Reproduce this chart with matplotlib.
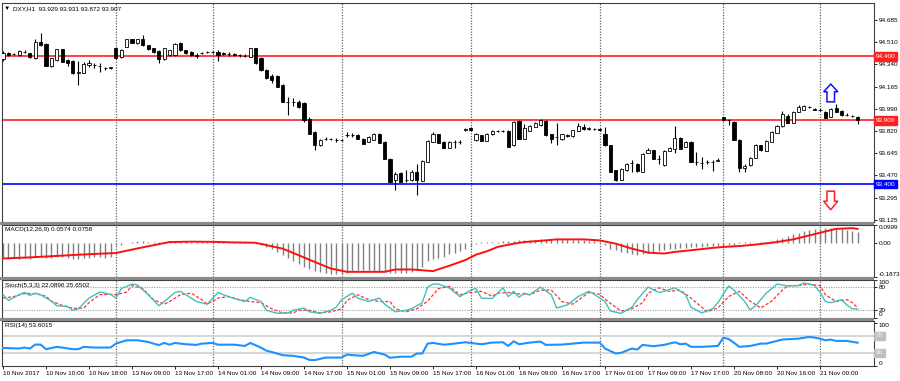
import matplotlib
matplotlib.use("Agg")
import matplotlib.pyplot as plt
from matplotlib.patches import Polygon, Rectangle
import numpy as np

plt.rcParams['font.family'] = ['Liberation Sans', 'DejaVu Sans']

# --- price data (DXY, H1) ---
opens = [94.380, 94.424, 94.422, 94.411, 94.438, 94.424, 94.385, 94.515, 94.497, 94.325,
         94.372, 94.456, 94.372, 94.366, 94.272, 94.272, 94.333, 94.333, 94.329, 94.307,
         94.309, 94.463, 94.393, 94.476, 94.534, 94.502, 94.534, 94.489, 94.463, 94.445,
         94.377, 94.411, 94.411, 94.507, 94.450, 94.437, 94.411, 94.427, 94.434, 94.437,
         94.437, 94.424, 94.419, 94.419, 94.411, 94.407, 94.398, 94.463, 94.385, 94.293,
         94.246, 94.246, 94.176, 94.045, 94.045, 94.045, 94.035, 93.915, 93.810, 93.706,
         93.758, 93.755, 93.745, 93.745, 93.784, 93.784, 93.784, 93.758, 93.731, 93.750,
         93.792, 93.731, 93.601, 93.431, 93.488, 93.435, 93.431, 93.496, 93.426, 93.575,
         93.731, 93.792, 93.731, 93.687, 93.731, 93.731, 93.823, 93.844, 93.745, 93.784,
         93.739, 93.792, 93.818, 93.818, 93.818, 93.706, 93.896, 93.758, 93.818, 93.849,
         93.862, 93.896, 93.792, 93.770, 93.758, 93.784, 93.776, 93.818, 93.849, 93.836,
         93.831, 93.831, 93.792, 93.706, 93.510, 93.437, 93.510, 93.570, 93.562, 93.496,
         93.645, 93.667, 93.601, 93.549, 93.661, 93.680, 93.766, 93.692, 93.731, 93.575,
         93.570, 93.575, 93.575, 93.584, 93.923, 93.902, 93.888, 93.750, 93.531, 93.549,
         93.609, 93.706, 93.661, 93.731, 93.802, 93.855, 93.933, 93.880, 93.967, 93.985,
         94.006, 93.993, 93.984, 93.967, 93.927, 94.001, 93.974, 93.941, 93.937, 93.929]
highs = [94.442, 94.434, 94.427, 94.450, 94.450, 94.427, 94.534, 94.581, 94.505, 94.387,
         94.458, 94.458, 94.380, 94.372, 94.364, 94.356, 94.372, 94.348, 94.348, 94.317,
         94.321, 94.474, 94.458, 94.536, 94.540, 94.540, 94.567, 94.493, 94.470, 94.450,
         94.470, 94.454, 94.509, 94.513, 94.454, 94.442, 94.427, 94.434, 94.442, 94.446,
         94.450, 94.438, 94.434, 94.427, 94.423, 94.419, 94.466, 94.466, 94.395, 94.301,
         94.262, 94.254, 94.184, 94.084, 94.074, 94.058, 94.043, 93.925, 93.815, 93.753,
         93.768, 93.764, 93.764, 93.749, 93.808, 93.800, 93.792, 93.761, 93.776, 93.800,
         93.800, 93.737, 93.604, 93.494, 93.494, 93.510, 93.510, 93.562, 93.588, 93.745,
         93.808, 93.796, 93.737, 93.737, 93.750, 93.749, 93.843, 93.847, 93.800, 93.788,
         93.800, 93.823, 93.827, 93.827, 93.823, 93.894, 93.902, 93.875, 93.862, 93.886,
         93.913, 93.902, 93.796, 93.880, 93.796, 93.796, 93.827, 93.878, 93.875, 93.850,
         93.839, 93.839, 93.847, 93.710, 93.514, 93.525, 93.565, 93.588, 93.565, 93.643,
         93.687, 93.670, 93.627, 93.667, 93.694, 93.855, 93.768, 93.737, 93.737, 93.653,
         93.614, 93.588, 93.588, 93.604, 93.925, 93.915, 93.894, 93.753, 93.562, 93.612,
         93.714, 93.710, 93.745, 93.815, 93.862, 93.972, 93.954, 93.972, 94.019, 94.019,
         94.015, 93.999, 93.996, 93.972, 93.999, 94.027, 93.980, 93.956, 93.944, 93.931]
lows = [94.364, 94.403, 94.411, 94.403, 94.427, 94.387, 94.380, 94.481, 94.325, 94.321,
        94.368, 94.356, 94.325, 94.266, 94.176, 94.270, 94.317, 94.309, 94.280, 94.297,
        94.305, 94.380, 94.387, 94.474, 94.505, 94.497, 94.481, 94.450, 94.427, 94.346,
        94.372, 94.407, 94.407, 94.446, 94.419, 94.407, 94.391, 94.419, 94.430, 94.430,
        94.364, 94.411, 94.403, 94.403, 94.399, 94.395, 94.395, 94.344, 94.286, 94.223,
        94.189, 94.160, 94.043, 93.941, 94.011, 93.996, 93.888, 93.792, 93.667, 93.702,
        93.749, 93.749, 93.729, 93.741, 93.768, 93.768, 93.753, 93.714, 93.729, 93.745,
        93.721, 93.596, 93.415, 93.358, 93.415, 93.418, 93.427, 93.321, 93.423, 93.572,
        93.729, 93.721, 93.682, 93.682, 93.687, 93.714, 93.819, 93.819, 93.741, 93.737,
        93.737, 93.788, 93.811, 93.811, 93.690, 93.702, 93.753, 93.757, 93.815, 93.847,
        93.858, 93.780, 93.724, 93.706, 93.745, 93.768, 93.772, 93.815, 93.823, 93.823,
        93.823, 93.819, 93.702, 93.494, 93.427, 93.431, 93.506, 93.496, 93.498, 93.494,
        93.643, 93.596, 93.557, 93.545, 93.659, 93.645, 93.674, 93.690, 93.572, 93.549,
        93.523, 93.561, 93.504, 93.580, 93.894, 93.862, 93.745, 93.496, 93.496, 93.545,
        93.604, 93.663, 93.659, 93.729, 93.800, 93.851, 93.878, 93.878, 93.964, 93.980,
        93.996, 93.980, 93.972, 93.917, 93.925, 93.964, 93.937, 93.933, 93.925, 93.872]
closes = [94.427, 94.411, 94.419, 94.445, 94.434, 94.393, 94.515, 94.489, 94.327, 94.385,
          94.456, 94.358, 94.346, 94.268, 94.278, 94.340, 94.348, 94.332, 94.325, 94.309,
          94.317, 94.385, 94.450, 94.534, 94.507, 94.534, 94.487, 94.456, 94.432, 94.377,
          94.463, 94.450, 94.497, 94.450, 94.424, 94.411, 94.407, 94.430, 94.438, 94.437,
          94.411, 94.422, 94.419, 94.411, 94.411, 94.403, 94.463, 94.346, 94.293, 94.228,
          94.215, 94.162, 94.045, 94.047, 94.045, 94.006, 93.902, 93.797, 93.706, 93.750,
          93.757, 93.758, 93.744, 93.745, 93.783, 93.785, 93.758, 93.719, 93.771, 93.792,
          93.724, 93.601, 93.418, 93.484, 93.418, 93.431, 93.496, 93.431, 93.582, 93.739,
          93.797, 93.727, 93.687, 93.731, 93.733, 93.731, 93.836, 93.823, 93.792, 93.739,
          93.797, 93.818, 93.819, 93.818, 93.692, 93.888, 93.758, 93.844, 93.855, 93.880,
          93.902, 93.784, 93.758, 93.772, 93.792, 93.781, 93.823, 93.855, 93.836, 93.837,
          93.830, 93.828, 93.706, 93.496, 93.431, 93.523, 93.562, 93.571, 93.502, 93.641,
          93.667, 93.601, 93.600, 93.661, 93.687, 93.766, 93.680, 93.731, 93.575, 93.576,
          93.569, 93.575, 93.576, 93.592, 93.902, 93.901, 93.750, 93.531, 93.541, 93.609,
          93.706, 93.667, 93.739, 93.810, 93.855, 93.948, 93.880, 93.967, 94.006, 94.011,
          94.007, 93.985, 93.985, 93.922, 93.993, 93.967, 93.941, 93.940, 93.933, 93.907]

# --- indicators ---
macd_hist = [-0.085, -0.088, -0.086, -0.087, -0.086, -0.088, -0.080, -0.075, -0.082, -0.085,
             -0.080, -0.078, -0.082, -0.088, -0.090, -0.085, -0.082, -0.080, -0.080, -0.082, -0.080,
             -0.014, -0.010, -0.003, 0.004, 0.008, 0.008, 0.004, 0.004,
             0.003, 0.005, 0.006, 0.008, 0.008, 0.007, 0.006, 0.006, 0.006, 0.006, 0.006, 0.005,
             0.005, 0.005, 0.004, 0.004, 0.004, 0.003,
             -0.005, -0.014, -0.023, -0.032, -0.050, -0.068, -0.086, -0.100, -0.115, -0.130,
             -0.145, -0.155, -0.162, -0.167, -0.170, -0.172, -0.170, -0.165,
             -0.155, -0.150, -0.150, -0.150, -0.155, -0.158, -0.162, -0.165, -0.168, -0.168,
             -0.165, -0.160, -0.150, -0.130, -0.100, -0.090, -0.085, -0.080,
             -0.060, -0.055, -0.045, -0.035, -0.020, -0.005, 0.002, 0.004, 0.004, 0.006,
             0.008, 0.010, 0.012, 0.013, 0.014, 0.015, 0.016, 0.018, 0.019, 0.020,
             0.020, 0.019, 0.018, 0.017, 0.015, 0.013, 0.010, 0.007, 0.004,
             -0.014, -0.032, -0.041, -0.050, -0.055, -0.060, -0.065, -0.060, -0.055, -0.050,
             -0.046, -0.041, -0.036, -0.032, -0.030, -0.028, -0.025, -0.023, -0.022, -0.020,
             -0.019, -0.018, -0.016, -0.014, -0.010,
             0.002, 0.004, 0.002, 0.000, 0.002, 0.005, 0.010, 0.018, 0.028, 0.037,
             0.046, 0.055, 0.062, 0.068, 0.074, 0.078, 0.080, 0.080, 0.078, 0.074,
             0.068, 0.062, 0.0574]
macd_sig_x = [0, 5, 10, 15, 21, 26, 31, 35, 39, 43, 47, 52, 55, 58, 61, 64, 71, 73, 76, 80,
              83, 86, 88, 90, 92, 95, 97, 101, 103, 108, 111, 114, 117, 120, 123, 125, 128, 132,
              134, 137, 140, 144, 147, 150, 153, 155, 158, 159]
macd_sig = [-0.086, -0.080, -0.072, -0.064, -0.056, -0.025, 0.004, 0.006, 0.005, 0.002,
            0.000, -0.032, -0.068, -0.105, -0.141, -0.159, -0.159, -0.146, -0.146, -0.155,
            -0.126, -0.095, -0.065, -0.047, -0.023, -0.005, 0.004, 0.013, 0.0185, 0.0185,
            0.013, -0.005, -0.032, -0.054, -0.059, -0.050, -0.041, -0.028,
            -0.023, -0.018, -0.010, 0.004, 0.0185, 0.040, 0.062, 0.076, 0.080, 0.0758]

stoch_x = [0, 1, 3, 4, 5, 6, 7, 9, 10, 12, 13, 14, 16, 18, 20, 21, 22, 24, 25, 27, 29, 30,
           32, 33, 34, 36, 38, 40, 41, 43, 45, 46, 48, 49, 51, 53, 54, 56, 57, 59, 61, 62,
           63, 65, 66, 68, 70, 71, 73, 75, 76, 78, 79, 80, 81, 83, 85, 87, 88, 89, 91, 93,
           94, 95, 96, 97, 98, 100, 102, 103, 105, 107, 109, 110, 112, 113, 115, 117, 118,
           120, 122, 123, 125, 127, 128, 130, 132, 133, 135, 136, 138, 139, 140, 142, 144,
           146, 148, 149, 151, 152, 153, 154, 156, 157, 158, 159]
stoch_main = [60, 45, 60, 66, 58, 64, 60, 43, 31, 29, 19, 23, 51, 67, 61, 51, 76, 88, 86, 60,
              31, 42, 66, 69, 60, 42, 35, 66, 60, 50, 42, 53, 42, 19, 11, 12, 19, 25, 15, 11,
              19, 27, 47, 64, 51, 42, 51, 35, 15, 19, 23, 39, 80, 88, 88, 78, 55, 72, 76, 51,
              50, 78, 55, 69, 53, 64, 60, 80, 60, 25, 33, 55, 69, 61, 42, 17, 11, 27, 47,
              80, 66, 69, 78, 60, 27, 12, 23, 39, 83, 72, 42, 20, 31, 64, 88,
              83, 84, 91, 84, 67, 42, 39, 47, 33, 23, 22.09]
stoch_sig_x = [0, 2, 4, 6, 8, 9, 11, 13, 15, 16, 18, 20, 21, 23, 24, 26, 28, 30, 31, 33, 35,
               37, 38, 40, 42, 44, 46, 48, 50, 52, 54, 55, 57, 59, 61, 63, 64, 66, 68, 70, 72,
               73, 75, 77, 79, 81, 83, 85, 87, 89, 91, 92, 94, 96, 98, 100, 102, 104, 106,
               107, 109, 111, 113, 115, 117, 119, 120, 122, 124, 126, 128, 130, 131, 133,
               135, 137, 139, 141, 143, 145, 146, 148, 150, 152, 153, 155, 157, 158, 159]
stoch_sig = [51, 55, 63, 63, 56, 43, 32, 24, 25, 39, 60, 61, 60, 67, 84, 76, 47, 35, 42, 60, 64,
             47, 35, 51, 55, 47, 42, 39, 23, 12, 12, 19, 19, 12, 15, 23, 45, 60, 47, 42, 42,
             23, 15, 23, 43, 76, 82, 60, 66, 69, 56, 64, 66, 62, 60, 72, 72, 42, 35,
             45, 66, 61, 37, 17, 23, 39, 64, 78, 69, 72, 51, 27, 15, 25,
             55, 69, 43, 25, 43, 72, 84, 84, 88, 84, 60, 42, 47, 39, 25.65]

rsi_x = [0, 3, 4, 5, 6, 7, 8, 10, 11, 13, 14, 15, 17, 20, 21, 23, 25, 27, 28, 29, 30, 31, 32,
         33, 34, 36, 37, 39, 40, 43, 45, 46, 48, 49, 50, 52, 54, 56, 57, 58, 60, 63, 64, 65,
         67, 69, 71, 72, 74, 76, 77, 78, 79, 80, 82, 83, 86, 89, 91, 93, 94, 95, 96, 98,
         100, 101, 104, 106, 108, 111, 112, 114, 115, 117, 118, 119, 121, 123, 125, 126,
         127, 128, 130, 133, 134, 135, 137, 139, 141, 142, 144, 145, 148, 150, 151, 152,
         153, 154, 155, 157, 159]
rsi = [41.5, 40, 42.3, 40, 49.2, 49.2, 38.5, 43.9, 42.3, 38.5, 38.5, 43.9, 42.3, 42.3, 51.5,
       59.2, 59.2, 55.4, 51.5, 48, 53, 49, 53, 51.5, 50, 48.5, 51.5, 53, 49, 49, 46, 53, 42,
       35, 32, 24.6, 23, 19, 13.5, 13, 19, 19, 26, 24.6, 23, 32, 26, 18.5, 21, 21, 28.5,
       28.5, 51.5, 53, 49, 50, 54.6, 50, 53.8, 54.6, 46, 56.9, 50, 53.8, 56.2, 48.5, 49.2,
       51.5, 53.8, 53.8, 40, 28.5, 30, 40, 37.7, 48.5, 45.4, 48.5, 54.6, 50, 51.5, 44, 44,
       46, 65, 62.3, 44, 46, 51.5, 51.5, 57.7, 61, 63, 67, 65.4, 63, 59.2, 60.8, 57.7,
       57.7, 53.6]

levels_red = [94.400, 93.900]
level_blue = 93.400
price_ticks = [94.685, 94.510, 94.340, 94.165, 93.990, 93.820, 93.645, 93.470, 93.295, 93.125]
day_starts = [21, 39, 63, 87, 111, 134, 152]
time_labels = ['10 Nov 2017', '10 Nov 10:00', '10 Nov 18:00', '13 Nov 09:00', '13 Nov 17:00',
               '14 Nov 01:00', '14 Nov 09:00', '14 Nov 17:00', '15 Nov 01:00', '15 Nov 09:00',
               '15 Nov 17:00', '16 Nov 01:00', '16 Nov 09:00', '16 Nov 17:00', '17 Nov 01:00',
               '17 Nov 09:00', '17 Nov 17:00', '20 Nov 08:00', '20 Nov 16:00', '21 Nov 00:00']
label_step = 8

# --- layout helpers (pixel boxes on a 900x381 canvas) ---
W, H = 900, 381
FS = 4.6
GRID = '#606060'


def box(top, bottom, left=2, right=874):
    return [left / W, 1 - bottom / H, (right - left) / W, (bottom - top) / H]


fig = plt.figure(figsize=(9, 3.81), dpi=100)
fig.patch.set_facecolor('white')

ax = fig.add_axes(box(3, 221.5))
ax_macd = fig.add_axes(box(224.5, 277))
ax_st = fig.add_axes(box(279.5, 317.5))
ax_rsi = fig.add_axes(box(320.5, 366))
axes = [ax, ax_macd, ax_st, ax_rsi]

n = len(closes)
idx = np.arange(n)
o, h, l, c = map(np.array, (opens, highs, lows, closes))
xmax = (874 - 3) / 5.375
xmin = -1 / 5.375

for a in axes:
    a.set_xlim(xmin, xmax)
    a.tick_params(axis='both', labelsize=FS, length=2, width=0.6, pad=1.2, colors='black')
    a.yaxis.tick_right()
    for s in a.spines.values():
        s.set_color('#404040')
        s.set_linewidth(0.8)
    a.set_xticks([])
    for d in day_starts:
        a.axvline(d, color=GRID, lw=0.9, ls=(0, (1, 1.2)), zorder=1)

# --- main chart ---
ax.set_ylim(93.110, 94.818)
for lv in levels_red:
    ax.axhline(lv, color='#ff2020', lw=1.2, zorder=2)
ax.axhline(level_blue, color='#0000ff', lw=1.2, zorder=2)

ax.vlines(idx, l, h, color='black', lw=0.8, zorder=3)
bull = c >= o
body_lo = np.minimum(o, c)
body_h = np.maximum(np.abs(c - o), 0.0008)
ax.bar(idx, body_h, bottom=body_lo, width=0.6,
       color=np.where(bull, 'white', 'black'), edgecolor='black', linewidth=0.6, zorder=4)

ax.set_yticks(price_ticks)
ax.set_yticklabels([f'{t:.3f}' for t in price_ticks])

for lv, col in [(levels_red[0], '#ff2020'), (levels_red[1], '#ff2020'), (level_blue, '#0000ff')]:
    ax.annotate(f'{lv:.3f}', xy=(1, lv), xycoords=('axes fraction', 'data'),
                xytext=(1.3, 0), textcoords='offset points', va='center', ha='left',
                fontsize=FS, color='white',
                bbox=dict(boxstyle='square,pad=0.25', fc=col, ec=col), zorder=10,
                annotation_clip=False)

# hollow arrows
UP_ARROW = (154.0, 94.184, 94.124, 94.045)
DOWN_ARROW = (154.0, 93.202, 93.269, 93.347)
for (cx, tip, hb, base), col in [(UP_ARROW, '#1010ff'), (DOWN_ARROW, '#ff2020')]:
    hw, sw = 1.33, 0.7
    pts = [(cx, tip), (cx + hw, hb), (cx + sw, hb), (cx + sw, base),
           (cx - sw, base), (cx - sw, hb), (cx - hw, hb)]
    ax.add_patch(Polygon(pts, closed=True, fill=False, ec=col, lw=1.1, zorder=6))

fig.text(4 / W, 1 - 8.5 / H, '\u25bc', fontsize=4.6, va='center', ha='left')
fig.text(13 / W, 1 - 8.5 / H, 'DXY,H1  93.929 93.931 93.872 93.907', fontsize=FS,
         va='center', ha='left')

# --- MACD ---
ax_macd.set_ylim(-0.1873, 0.0999)
ax_macd.vlines(idx, 0, macd_hist, color='#808080', lw=1.0, zorder=2)
ax_macd.plot(macd_sig_x, macd_sig, color='#ff1010', lw=1.4, zorder=3)
ax_macd.set_yticks([0.0999, 0.0, -0.1873])
ax_macd.set_yticklabels(['0.0999', '0.00', '-0.1873'])
tl = ax_macd.get_yticklabels()
tl[0].set_va('top')
tl[2].set_va('bottom')
fig.text(5 / W, 1 - 229.5 / H, 'MACD(12,26,9) 0.0574 0.0758', fontsize=FS, va='center')

# --- Stochastic ---
ax_st.set_ylim(0, 100)
for lv in (80, 20):
    ax_st.axhline(lv, color='#a0a0a0', lw=0.8, ls=(0, (1, 1.2)), zorder=1)
ax_st.plot(stoch_x, stoch_main, color='#40c0c0', lw=1.0, zorder=3)
ax_st.plot(stoch_sig_x, stoch_sig, color='#ff3030', lw=0.9, ls=(0, (2.5, 1.5)), zorder=2)
ax_st.set_yticks([100, 80, 20, 0])
tl = ax_st.get_yticklabels()
tl[0].set_va('top')
tl[3].set_va('bottom')
fig.text(5 / W, 1 - 285 / H, 'Stoch(5,3,3) 22.0896 25.6502', fontsize=FS, va='center')

# --- RSI ---
ax_rsi.set_ylim(-0.6, 105.2)
for lv in (70, 30):
    ax_rsi.axhline(lv, color='#d0d0d0', lw=1.2, zorder=1)
ax_rsi.plot(rsi_x, rsi, color='#1e90ff', lw=1.5, zorder=3)
ax_rsi.set_yticks([100, 70, 30, 0])
ax_rsi.set_yticklabels(['100', '', '', '0'])
tl = ax_rsi.get_yticklabels()
tl[0].set_va('top')
tl[3].set_va('bottom')
for lv in (70, 30):
    ax_rsi.annotate(str(lv), xy=(1, lv), xycoords=('axes fraction', 'data'),
                    xytext=(1.3, 0), textcoords='offset points', va='center', ha='left',
                    fontsize=FS, color='#f4f4f4',
                    bbox=dict(boxstyle='square,pad=0.25', fc='#c0c0c0', ec='#c0c0c0'),
                    annotation_clip=False)
fig.text(5 / W, 1 - 326 / H, 'RSI(14) 53.6015', fontsize=FS, va='center')

tick_pos = [i * label_step for i in range(len(time_labels))]
ax_rsi.set_xticks(tick_pos)
ax_rsi.set_xticklabels(time_labels, ha='left')
ax_rsi.tick_params(axis='x', labelsize=FS, length=2, pad=1.5)

# separator bands between windows
for top, bot in [(221.5, 224.5), (277, 279.5), (317.5, 320.5)]:
    fig.add_artist(Rectangle((0, 1 - bot / H), 874 / W, (bot - top) / H,
                             transform=fig.transFigure, fc='#8a8a8a', ec='none'))

fig.savefig('out.png', dpi=100)
